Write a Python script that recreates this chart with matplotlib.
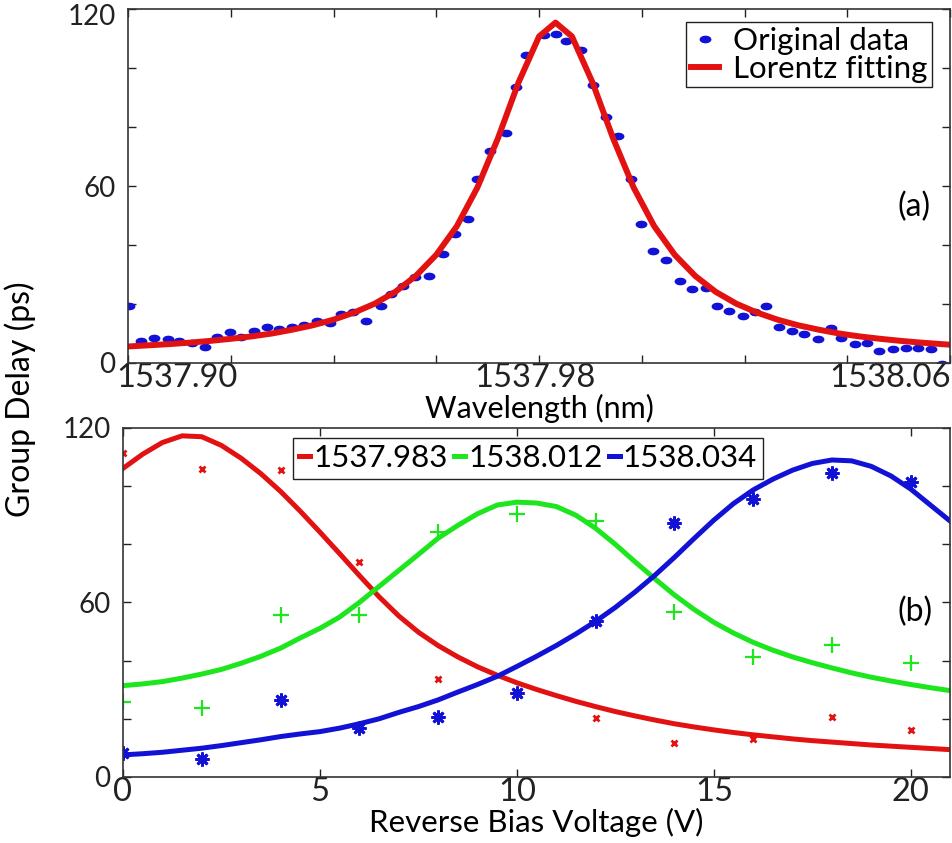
import numpy as np
import matplotlib
matplotlib.use("Agg")
import matplotlib.pyplot as plt
from matplotlib.path import Path
from matplotlib.transforms import Affine2D, ScaledTranslation

plt.rcParams["font.family"] = ["Lato", "DejaVu Sans"]
plt.rcParams["font.size"] = 22
plt.rcParams["xtick.labelsize"] = 23.5
plt.rcParams["ytick.labelsize"] = 20

# (a) group delay vs wavelength
wl_data = [1537.8803, 1537.8831, 1537.8863, 1537.8896, 1537.8924, 1537.8956, 1537.8988,
           1537.9016, 1537.9048, 1537.9076, 1537.9107, 1537.9139, 1537.9167, 1537.9198,
           1537.9228, 1537.9259, 1537.9291, 1537.9317, 1537.9348, 1537.9380, 1537.9415,
           1537.9439, 1537.9468, 1537.9497, 1537.9532, 1537.9566, 1537.9596, 1537.9627,
           1537.9650, 1537.9680, 1537.9719, 1537.9745, 1537.9769, 1537.9811, 1537.9840,
           1537.9866, 1537.9902, 1537.9932, 1537.9963, 1537.9993, 1538.0024, 1538.0048,
           1538.0078, 1538.0109, 1538.0143, 1538.0172, 1538.0206, 1538.0232, 1538.0263,
           1538.0295, 1538.0326, 1538.0352, 1538.0384, 1538.0415, 1538.0445, 1538.0478,
           1538.0510, 1538.0535, 1538.0569, 1538.0599, 1538.0628, 1538.0660, 1538.0692,
           1538.0721, 1538.0753, 1538.0781]
gd_data = [19.4, 7.6, 8.6, 8.1, 7.6, 6.7, 5.5, 8.7, 10.6, 8.9, 11.0, 12.1, 11.4, 12.1,
           12.9, 14.2, 13.5, 16.5, 17.4, 14.3, 19.4, 23.4, 26.2, 29.1, 29.5, 36.8, 43.6,
           48.8, 62.3, 72.0, 78.0, 93.5, 104.4, 111.2, 111.5, 109.0, 106.1, 94.2, 83.3,
           77.0, 62.3, 47.1, 38.0, 34.9, 27.8, 25.0, 25.5, 19.3, 17.6, 15.9, 17.4, 19.4,
           12.3, 10.8, 9.8, 8.0, 12.0, 8.6, 6.4, 6.9, 4.1, 4.6, 5.0, 5.2, 4.6, -0.3]

wl_fit = [1537.880, 1537.885, 1537.890, 1537.895, 1537.900, 1537.905, 1537.910, 1537.915,
          1537.920, 1537.925, 1537.930, 1537.935, 1537.940, 1537.945, 1537.950, 1537.955,
          1537.960, 1537.965, 1537.970, 1537.975, 1537.980, 1537.984, 1537.988, 1537.993,
          1537.998, 1538.003, 1538.008, 1538.013, 1538.018, 1538.023, 1538.028, 1538.033,
          1538.038, 1538.043, 1538.048, 1538.053, 1538.058, 1538.063, 1538.068, 1538.073,
          1538.078, 1538.080]
gd_fit = [5.6, 6.0, 6.4, 6.9, 7.5, 8.2, 9.0, 10.0, 11.3, 12.8, 14.7, 17.1, 20.1, 24.1,
          29.5, 36.7, 46.4, 59.5, 76.2, 95.1, 110.7, 115.4, 110.7, 95.1, 76.2, 59.5, 46.4,
          36.7, 29.5, 24.1, 20.1, 17.1, 14.7, 12.8, 11.3, 10.0, 9.0, 8.2, 7.5, 6.9, 6.4, 6.2]

# tick marks and where the three wavelength labels sit
wl_ticks = [1537.880, 1537.905, 1537.930, 1537.955, 1537.980, 1538.005, 1538.030, 1538.055, 1538.080]
wl_label_pos = [1537.892, 1537.979, 1538.0655]
wl_labels = ["1537.90", "1537.98", "1538.06"]

# (b) group delay vs reverse bias voltage
v_pts = [0, 2, 4, 6, 8, 10, 12, 14, 16, 18, 20]
v_red = [0, 2, 4, 6, 8, 12, 14, 16, 18, 20]
gd_red = [111.5, 105.8, 105.5, 74.0, 33.6, 20.2, 11.6, 13.0, 20.5, 16.2]
gd_green = [25.7, 23.6, 55.7, 55.7, 84.3, 90.3, 88.1, 56.8, 41.4, 45.4, 39.1]
gd_blue = [8.4, 6.1, 26.5, 17.0, 20.5, 28.8, 53.7, 87.2, 95.6, 104.4, 101.5]

v_fit = [0, 0.5, 1, 1.5, 2, 2.5, 3, 3.5, 4, 4.5, 5, 5.5, 6, 6.5, 7, 7.5, 8, 8.5, 9, 9.5,
         10, 10.5, 11, 11.5, 12, 12.5, 13, 13.5, 14, 14.5, 15, 15.5, 16, 16.5, 17, 17.5,
         18, 18.5, 19, 19.5, 20, 20.5, 21]
fit_red = [106.1, 111, 115, 117.3, 117.0, 114, 109.6, 104.3, 98.2, 91.4, 84.2, 76.8, 69.3,
           62, 55.4, 49.8, 45.2, 41.3, 37.9, 35, 32.4, 30.1, 28.0, 26.0, 24.2, 22.5, 21.0,
           19.6, 18.3, 17.2, 16.2, 15.3, 14.5, 13.8, 13.1, 12.5, 12.0, 11.5, 11.0, 10.6,
           10.2, 9.8, 9.4]
fit_green = [31.4, 32, 32.8, 34, 35.4, 37, 39.1, 41.5, 44.3, 47.8, 51.1, 55, 60, 65.5, 71,
             76.5, 82.1, 86.5, 90.5, 93.5, 94.5, 94.2, 93, 90, 85.5, 80, 74, 68.2, 62.6,
             57.6, 53.2, 49.5, 46.3, 43.6, 41.3, 39.3, 37.5, 35.8, 34.3, 33, 31.8, 30.7, 29.7]
fit_blue = [7.6, 8, 8.5, 9.2, 9.9, 10.8, 11.8, 12.8, 13.9, 14.8, 15.6, 16.8, 18.3, 20, 22.2,
            24.2, 26.5, 29.2, 31.8, 34.6, 38, 41.5, 45.2, 49.2, 53.5, 58.3, 63.6, 69.3, 75.5,
            82, 88.3, 94, 98.7, 102.4, 105.5, 107.8, 109, 108.7, 106.8, 103.5, 99, 93.5, 88]
labels_b = ["1537.983", "1538.012", "1538.034"]

RED = "#e31212"
GREEN = "#1ee61e"
BLUE = "#1212d6"

dot = Path.unit_circle().transformed(Affine2D().scale(1.0, 0.6))

fig = plt.figure(figsize=(9.52, 8.43), dpi=100)
ax1 = fig.add_axes([0.1345, 0.5694, 0.8635, 0.4199])
ax2 = fig.add_axes([0.1292, 0.0783, 0.8688, 0.4140])

ax1.plot(wl_data, gd_data, ls="none", marker=dot, ms=7.5, color=BLUE, label="Original data")
ax1.plot(wl_fit, gd_fit, color=RED, lw=4.3, label="Lorentz fitting")
ax1.set_xlim(1537.88, 1538.08)
ax1.set_ylim(0, 120)
ax1.set_xticks(wl_label_pos)
ax1.set_xticklabels(wl_labels)
ax1.set_xticks(wl_ticks, minor=True)
ax1.set_yticks([0, 20, 40, 60, 80, 100, 120])
ax1.set_yticklabels(["0", "", "", "60", "", "", "120"])
ax1.set_xlabel("Wavelength (nm)", labelpad=0.5, fontsize=22)
ax1.text(0.976, 0.44, "(a)", transform=ax1.transAxes, ha="right", va="center", fontsize=23)
ax1.legend(loc="upper right", bbox_to_anchor=(0.978, 0.963), fancybox=False, edgecolor="#222222",
           framealpha=1, fontsize=22.5, handlelength=0.9, handletextpad=0.45, borderpad=0.15,
           labelspacing=0.0, borderaxespad=0)

ax2.plot(v_fit, fit_red, color=RED, lw=3.6, label=labels_b[0])
ax2.plot(v_fit, fit_green, color=GREEN, lw=3.6, label=labels_b[1])
ax2.plot(v_fit, fit_blue, color=BLUE, lw=3.6, label=labels_b[2])
ax2.plot(v_red, gd_red, ls="none", marker="x", ms=5, mew=2, color=RED)
ax2.plot(v_pts, gd_green, ls="none", marker="+", ms=11, mew=1.6, color=GREEN)
ax2.plot(v_pts, gd_blue, ls="none", marker=(8, 2, 0), ms=10, mew=2, color=BLUE)
ax2.set_xlim(0, 21)
ax2.set_ylim(0, 120)
ax2.set_xticks([0, 5, 10, 15, 20])
ax2.set_yticks([0, 20, 40, 60, 80, 100, 120])
ax2.set_yticklabels(["0", "", "", "60", "", "", "120"])
ax2.set_xlabel("Reverse Bias Voltage (V)", labelpad=0.5, fontsize=22.5)
ax2.text(0.979, 0.473, "(b)", transform=ax2.transAxes, ha="right", va="center", fontsize=23)
ax2.legend(loc="upper left", bbox_to_anchor=(0.2056, 0.971), ncol=3, fancybox=False,
           edgecolor="#222222", framealpha=1, fontsize=22.5, handlelength=0.35,
           handletextpad=0.1, columnspacing=0.2, borderpad=0.2, borderaxespad=0)

for ax in (ax1, ax2):
    ax.tick_params(which="both", direction="in", top=True, right=True, length=6, width=1,
                   colors="#222222")
    ax.tick_params(axis="x", which="both", pad=0)
    ax.tick_params(axis="y", pad=9)
    for s in ax.spines.values():
        s.set_color("#333333")
        s.set_linewidth(1.2)
ax1.tick_params(axis="x", which="major", length=0)

# the top "120" sits a little below its tick, as in the original
top_lbl = ax1.get_yticklabels()[-1]
top_lbl.set_transform(top_lbl.get_transform() + ScaledTranslation(0, -4 / 72, fig.dpi_scale_trans))

fig.text(0.021, 0.527, "Group Delay (ps)", rotation=90, ha="center", va="center", fontsize=23)

fig.savefig("out.png", dpi=100)
